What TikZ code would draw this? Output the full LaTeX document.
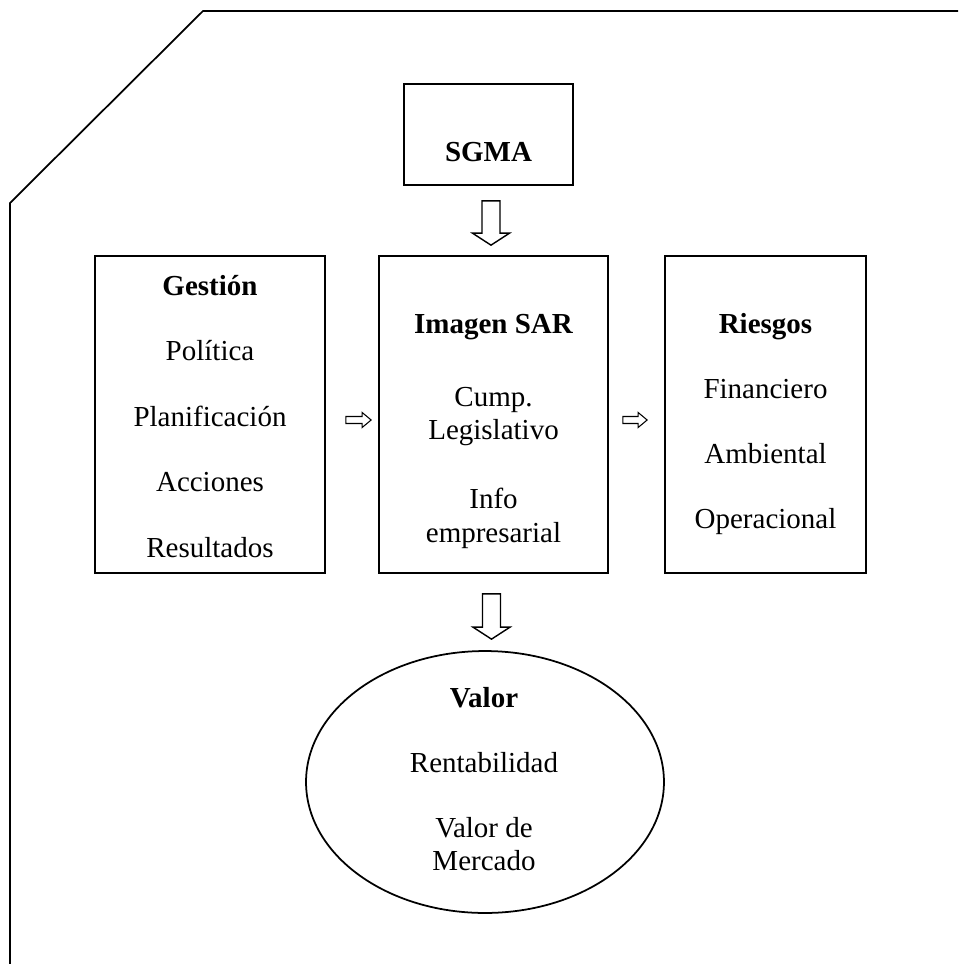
\documentclass[tikz,border=0pt]{standalone}
\usepackage{fontspec}
\setmainfont{Liberation Serif}
\usetikzlibrary{calc,shapes.geometric}

\tikzset{
    caja/.style={rectangle, draw, line width=1pt},
    texto/.style={anchor=base, inner sep=0pt, font=\fontsize{16.5}{19}\selectfont},
    titulo/.style={texto, font=\fontsize{16.5}{19}\selectfont\bfseries},
    flecha/.style={draw, line width=0.8pt, fill=white, line join=miter},
}

% flecha gruesa hacia abajo: (inicio) (punta)
\newcommand{\flechaabajo}[2]{%
    \draw[flecha] ($(#1)+(-9,0)$) -- ($(#2)+(-9,-12)$) -- ($(#2)+(-18.5,-12)$) -- (#2)
        -- ($(#2)+(18.5,-12)$) -- ($(#2)+(9,-12)$) -- ($(#1)+(9,0)$) -- cycle;}
% flecha chica hacia la derecha
\newcommand{\flechader}[2]{%
    \draw[flecha, line width=0.6pt] ($(#1)+(0,-3.5)$) -- ($(#2)+(-9,-3.5)$) -- ($(#2)+(-9,-7.5)$) -- (#2)
        -- ($(#2)+(-9,7.5)$) -- ($(#2)+(-9,3.5)$) -- ($(#1)+(0,3.5)$) -- cycle;}

\begin{document}
\begin{tikzpicture}[x=0.02cm, y=-0.02cm]
    \useasboundingbox (0,0) rectangle (958,964);

    % marco
    \draw[line width=1pt] (10,964) -- (10,203) -- (203,11) -- (958,11);

    % cajas
    \node[caja, minimum width=3.38cm, minimum height=2.02cm] (sgma) at (488.5,134.5) {};
    \node[caja, minimum width=4.6cm, minimum height=6.34cm] (gestion) at (210,414.5) {};
    \node[caja, minimum width=4.58cm, minimum height=6.34cm] (sar) at (493.5,414.5) {};
    \node[caja, minimum width=4.02cm, minimum height=6.34cm] (riesgos) at (765.5,414.5) {};
    \node[ellipse, draw, line width=1pt, minimum width=7.16cm, minimum height=5.24cm] (valor) at (485,782) {};

    % textos
    \node[titulo] (tsgma) at (488.5,161) {SGMA};

    \node[titulo] (tges) at (210,295) {Gestión};
    \foreach \t [count=\i] in {Política,Planificación,Acciones,Resultados}
        \node[texto] (ges\i) at ($(tges.base)+(0,65.5*\i)$) {\t};

    \node[titulo] (tsar) at (493.5,333) {Imagen SAR};
    \node[texto] (sar1) at (493.5,406) {Cump.};
    \node[texto] (sar2) at (493.5,439) {Legislativo};
    \node[texto] (sar3) at (493.5,508) {Info};
    \node[texto] (sar4) at (493.5,542) {empresarial};

    \node[titulo] (tries) at (765.5,333) {Riesgos};
    \foreach \t [count=\i] in {Financiero,Ambiental,Operacional}
        \node[texto] (ries\i) at ($(tries.base)+(0,65*\i)$) {\t};

    \node[titulo] (tval) at (484,707) {Valor};
    \node[texto] (val1) at (484,772) {Rentabilidad};
    \node[texto] (val2) at (484,837) {Valor de};
    \node[texto] (val3) at (484,870) {Mercado};

    % flechas
    \coordinate (a1) at ($(sgma.south)+(2.5,15)$);
    \coordinate (b1) at ($(sar.north)+(-2.5,-10)$);
    \flechaabajo{a1}{b1}
    \coordinate (a2) at ($(sar.south)+(-2,20)$);
    \coordinate (b2) at ($(valor.north)+(6.5,-11)$);
    \flechaabajo{a2}{b2}
    \coordinate (c1) at ($(gestion.east)+(20,5.5)$);
    \coordinate (d1) at ($(sar.west)+(-7,5.5)$);
    \flechader{c1}{d1}
    \coordinate (c2) at ($(sar.east)+(14,5.5)$);
    \coordinate (d2) at ($(riesgos.west)+(-17,5.5)$);
    \flechader{c2}{d2}
\end{tikzpicture}
\end{document}
